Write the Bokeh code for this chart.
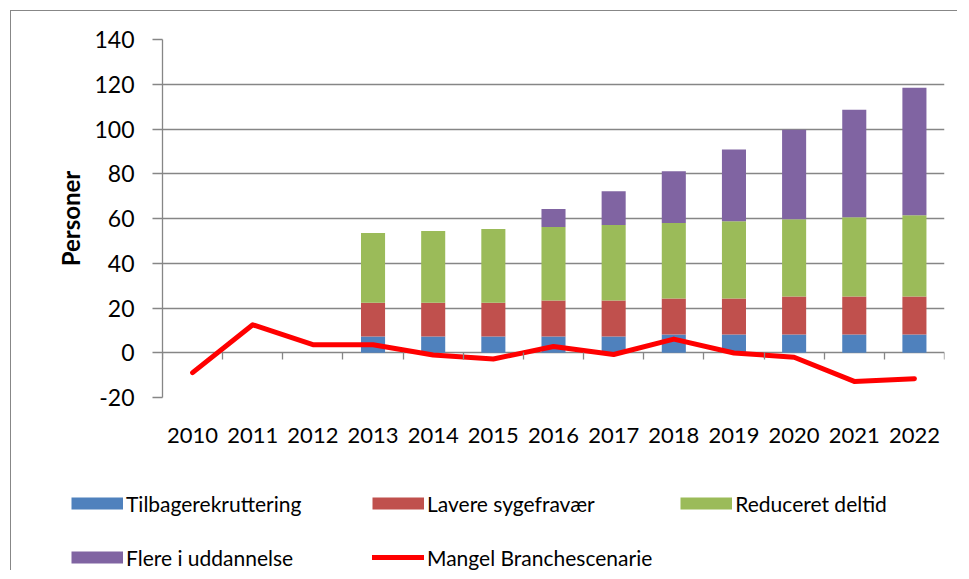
from bokeh.plotting import figure
from bokeh.models import (Range1d, FixedTicker, LinearAxis, Legend, LegendItem,
                          ColumnDataSource)
from bokeh.embed import file_html
from bokeh.resources import INLINE

# ---- data ----
years = ["2010", "2011", "2012", "2013", "2014", "2015", "2016",
         "2017", "2018", "2019", "2020", "2021", "2022"]
tilbagerekruttering = [0, 0, 0, 7.3, 7.3, 7.3, 7.3, 7.3, 8.2, 8.2, 8.2, 8.2, 8.2]
lavere_sygefravaer = [0, 0, 0, 15.1, 15.1, 15.1, 16.0, 16.0, 16.0, 16.0, 16.9, 16.9, 16.9]
reduceret_deltid = [0, 0, 0, 31.1, 32.0, 32.9, 32.9, 33.8, 33.8, 34.6, 34.6, 35.5, 36.4]
flere_i_uddannelse = [0, 0, 0, 0, 0, 0, 8.0, 15.1, 23.1, 32.0, 40.0, 48.0, 56.9]
mangel_branchescenarie = [-8.9, 12.5, 3.6, 3.6, -1.0, -2.8, 2.8, -0.8, 6.1, -0.1, -2.0, -12.8, -11.6]
y_ticks = [-20, 0, 20, 40, 60, 80, 100, 120, 140]

series_names = ["Tilbagerekruttering", "Lavere sygefravær", "Reduceret deltid",
                "Flere i uddannelse"]
line_name = "Mangel Branchescenarie"
colors = ["#4F81BD", "#C0504D", "#9BBB59", "#8064A2"]
line_color = "#FF0000"
grid_color = "#868686"
FONT = "Lato"

xs = [i + 0.5 for i in range(len(years))]
stack_cols = ["s0", "s1", "s2", "s3"]
src = ColumnDataSource(data=dict(
    x=xs, s0=tilbagerekruttering, s1=lavere_sygefravaer, s2=reduceret_deltid,
    s3=flere_i_uddannelse, mangel=mangel_branchescenarie))

p = figure(width=947, height=459,
           x_range=Range1d(0, len(years)), y_range=Range1d(y_ticks[0], y_ticks[-1]),
           output_backend="svg", toolbar_location=None,
           min_border_left=151, min_border_top=28, min_border_right=14,
           min_border_bottom=73, outline_line_color=None,
           styles={"margin-left": "10px", "margin-top": "10px",
                   "border-left": "1px solid #878787",
                   "border-top": "1px solid #878787"})

bars = p.vbar_stack(stack_cols, x="x", width=0.4, fill_color=colors,
                    line_color=None, source=src)
ln = p.line("x", "mangel", source=src, line_color=line_color, line_width=5,
            line_join="round", line_cap="round")

# grid
p.xgrid.visible = False
p.ygrid.ticker = FixedTicker(ticks=y_ticks, minor_ticks=[])
p.ygrid.grid_line_color = grid_color
p.ygrid.grid_line_width = 1.3

# y axis
ya = p.yaxis[0]
ya.ticker = FixedTicker(ticks=y_ticks, minor_ticks=[])
ya.major_label_overrides = {t: str(t) for t in y_ticks}
ya.axis_line_color = grid_color
ya.axis_line_width = 1.3
ya.major_tick_line_color = grid_color
ya.major_tick_line_width = 1.3
ya.major_tick_out = 10
ya.major_tick_in = 0
ya.minor_tick_out = 0
ya.major_label_text_font = FONT
ya.major_label_text_font_size = "23px"
ya.major_label_text_color = "black"
ya.major_label_standoff = 18
ya.axis_label = "Personer"
ya.axis_label_text_font = FONT
ya.axis_label_text_font_style = "bold"
ya.axis_label_text_font_size = "24px"
ya.axis_label_text_color = "black"
ya.axis_label_standoff = 6

# x axis (labels only)
xa = p.xaxis[0]
xa.ticker = FixedTicker(ticks=xs, minor_ticks=[])
xa.major_label_overrides = {x: y for x, y in zip(xs, years)}
xa.axis_line_color = None
xa.major_tick_line_color = None
xa.major_tick_out = 0
xa.minor_tick_out = 0
xa.major_label_text_font = FONT
xa.major_label_text_font_size = "22px"
xa.major_label_text_color = "black"
xa.major_label_standoff = 30

# category boundary ticks on the zero line
tick_axis = LinearAxis(fixed_location=0,
                       ticker=FixedTicker(ticks=list(range(len(years) + 1)), minor_ticks=[]),
                       axis_line_color=None, major_tick_line_color=grid_color,
                       major_tick_line_width=1.3, major_tick_out=7, major_tick_in=0,
                       minor_tick_out=0, major_label_text_alpha=0,
                       major_label_text_font_size="1px")
p.add_layout(tick_axis, "below")

# ---- legend strip below the chart (separate root, proxies lie outside its view) ----
pl = figure(width=947, height=101, x_range=Range1d(-2, -1), y_range=Range1d(-2, -1),
            output_backend="svg", toolbar_location=None,
            x_axis_location=None, y_axis_location=None,
            min_border=0, outline_line_color=None,
            styles={"margin-left": "10px", "border-left": "1px solid #878787"})
pl.grid.visible = False
proxies = [pl.line(x="x", y=col, source=src, line_color=c, line_width=12, line_cap="butt")
           for col, c in zip(stack_cols, colors)]
line_proxy = pl.line(x="x", y="mangel", source=src, line_color=line_color, line_width=5,
                     line_cap="round")
items = [
    LegendItem(label=series_names[0], renderers=[proxies[0]]),
    LegendItem(label=series_names[1], renderers=[proxies[1]]),
    LegendItem(label=series_names[2], renderers=[proxies[2]]),
    LegendItem(label=series_names[3], renderers=[proxies[3]]),
    LegendItem(label=line_name, renderers=[line_proxy]),
]
legend = Legend(items=items, location=(60, 0), orientation="horizontal", ncols=3,
                glyph_width=52, glyph_height=26, label_height=26, label_width=218,
                label_standoff=3, spacing=28, padding=0, margin=0,
                border_line_color=None, background_fill_alpha=0,
                label_text_font=FONT, label_text_font_size="21px",
                label_text_color="black")
pl.add_layout(legend, "center")

open("out.html", "w").write(file_html([p, pl], INLINE))
